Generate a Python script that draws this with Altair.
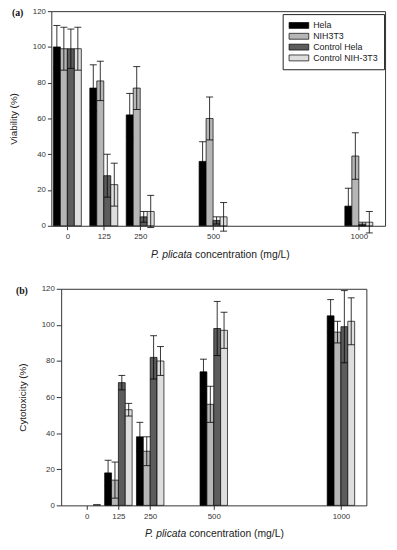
import altair as alt
import pandas as pd

conc = [0, 125, 250, 500, 1000]
series = ["Hela", "NIH3T3", "Control Hela", "Control NIH-3T3"]
colors = ["#000000", "#b6b6b6", "#5c5c5c", "#dedede"]
y_ticks = [0, 20, 40, 60, 80, 100, 120]

# Panel (a): viability (%)
via_hela = [100, 77, 62, 36, 11]
via_hela_err = [12, 13, 12, 11, 10]
via_nih = [99, 81, 77, 60, 39]
via_nih_err = [12, 11, 12, 12, 13]
via_chela = [99, 28, 5, 3, 1]
via_chela_err = [11, 12, 3, 2, 1]
via_cnih = [99, 23, 8, 5, 2]
via_cnih_err = [12, 12, 9, 8, 6]

# Panel (b): cytotoxicity (%)
cyt_hela = [0, 18, 38, 74, 105]
cyt_hela_err = [0, 7, 8, 7, 9]
cyt_nih = [0, 14, 30, 56, 96]
cyt_nih_err = [0, 10, 8, 10, 6]
cyt_chela = [0, 68, 82, 98, 99]
cyt_chela_err = [0, 4, 12, 15, 20]
cyt_cnih = [0.5, 53, 80, 97, 102]
cyt_cnih_err = [0, 3.5, 8, 10, 13]

FONT = "Liberation Sans"
AX = "#333333"


def build_df(vals, errs, barw):
    rows = []
    for i, (s, v, e) in enumerate(zip(series, vals, errs)):
        k = i - 1.5
        for c, val, err in zip(conc, v, e):
            xc = c + k * barw
            rows.append(dict(series=s, order=i, conc=c, xc=xc, x0=xc - barw / 2,
                             x1=xc + barw / 2, value=val, err=err,
                             lo=val - err, hi=val + err, base=0))
    return pd.DataFrame(rows)


def panel(df, ylab, tag, xdom, xrange, width, height, yoffset, ytick, legend,
          title_split, tag_x, title_dy):
    xs = alt.Scale(domain=xdom, range=xrange, nice=False, zero=False) if xrange else \
        alt.Scale(domain=xdom, nice=False, zero=False)
    ys = alt.Scale(domain=[0, 120], nice=False)
    fill = alt.Fill("series:N", scale=alt.Scale(domain=series, range=colors),
                    sort=series, legend=legend)
    bars = alt.Chart(df[df["value"] > 0]).mark_rect(stroke="black", strokeWidth=0.7).encode(
        x=alt.X("x0:Q", scale=xs, axis=alt.Axis(values=conc, format="d", title=None,
                                                  tickSize=4, labelPadding=3)),
        x2="x1:Q",
        y=alt.Y("value:Q", scale=ys,
                axis=alt.Axis(values=y_ticks, title=ylab, offset=yoffset,
                              tickSize=ytick, labelPadding=2, titlePadding=14,
                              titleFontSize=10, titleFontWeight="normal",
                              titleFont=FONT, titleColor="#222222")),
        y2="base:Q",
        fill=fill,
    )
    eb = df[df["err"] > 0]
    stem = alt.Chart(eb).mark_rule(color="black", strokeWidth=0.8).encode(
        x=alt.X("xc:Q", scale=xs, axis=None),
        y=alt.Y("lo:Q", scale=ys, axis=None), y2="hi:Q")
    cap_hi = alt.Chart(eb).mark_rule(color="black", strokeWidth=0.8).encode(
        x=alt.X("x0:Q", scale=xs, axis=None), x2="x1:Q",
        y=alt.Y("hi:Q", scale=ys, axis=None))
    cap_lo = alt.Chart(eb).mark_rule(color="black", strokeWidth=0.8).encode(
        x=alt.X("x0:Q", scale=xs, axis=None), x2="x1:Q",
        y=alt.Y("lo:Q", scale=ys, axis=None))
    frame = alt.Chart(df).mark_point(opacity=0).encode(
        x=alt.X("xc:Q", scale=xs, axis=alt.Axis(orient="top", labels=False, ticks=False,
                                                  title=None)),
        y=alt.Y("value:Q", scale=ys, axis=alt.Axis(orient="right", labels=False,
                                                     ticks=False, title=None)))
    one = pd.DataFrame({"a": [0]})
    t_tag = alt.Chart(one).mark_text(text=tag, font="Liberation Serif", fontWeight="bold",
                                     fontSize=10, align="left", baseline="middle",
                                     color="#111111").encode(
        x=alt.value(tag_x), y=alt.value(2))
    t_it = alt.Chart(one).mark_text(text="P. plicata", font=FONT, fontStyle="italic",
                                    fontSize=10.5, align="right", baseline="middle",
                                    color="#222222").encode(
        x=alt.value(title_split), y=alt.value(height + title_dy))
    t_rest = alt.Chart(one).mark_text(text="concentration (mg/L)", font=FONT,
                                      fontSize=10.5, align="left", baseline="middle",
                                      color="#222222").encode(
        x=alt.value(title_split + 3), y=alt.value(height + title_dy))
    return alt.layer(bars, stem, cap_hi, cap_lo, frame, t_tag, t_it, t_rest).resolve_axis(
        x="independent", y="independent").properties(width=width, height=height)


leg = alt.Legend(title=None, orient="none", legendX=235, legendY=3,
                 strokeColor="#222222", fillColor="white", padding=6, rowPadding=0,
                 symbolType="M-1,-0.6H3V0.6H-1Z", symbolSize=100,
                 symbolStrokeColor="black", symbolStrokeWidth=0.7,
                 labelOffset=14, labelFont=FONT, labelFontSize=9, labelColor="#222222")

df_a = build_df([via_hela, via_nih, via_chela, via_cnih],
                [via_hela_err, via_nih_err, via_chela_err, via_cnih_err], 24)
df_b = build_df([cyt_hela, cyt_nih, cyt_chela, cyt_cnih],
                [cyt_hela_err, cyt_nih_err, cyt_chela_err, cyt_cnih_err], 27)

pa = panel(df_a, "Viability (%)", "(a)", [-55, 1090], None, 339, 218, 0, 4, leg, 143, -40, 30)
pb = panel(df_b, "Cytotoxicity (%)", "(b)", [-100, 1100], [10, 320], 320, 220, -10, 5,
           None, 137, -36, 29)

chart = alt.vconcat(pa, pb, spacing=24).resolve_legend(fill="independent").properties(
    padding={"left": 0, "top": -5, "right": 4, "bottom": -1}
).configure_view(stroke=None).configure_axis(
    grid=False, domainColor=AX, tickColor=AX, labelColor=AX, labelFont=FONT,
    labelFontSize=8, domainWidth=1, tickWidth=1
)

chart.save("out.html", embed_options={"renderer": "svg", "actions": False})
